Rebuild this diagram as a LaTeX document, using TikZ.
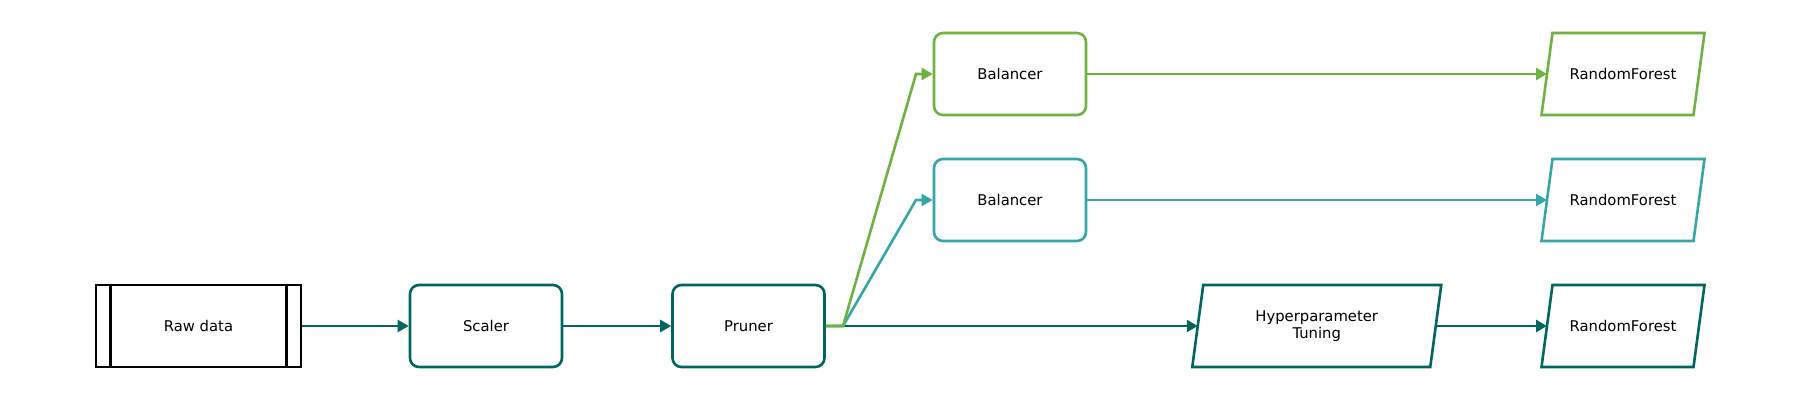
\documentclass[tikz,border=0pt]{standalone}
\usepackage{fontspec}
\setmainfont{DejaVu Sans}
\usetikzlibrary{arrows.meta}
\definecolor{deepteal}{HTML}{00665F}
\definecolor{leafgreen}{HTML}{6DB33F}
\definecolor{seateal}{HTML}{36A6A6}

\begin{document}
\begin{tikzpicture}[x=1pt,y=1pt,line width=2.6pt,
    txt/.style={font=\fontsize{14.8}{16.5}\selectfont, align=center},
    main/.style={draw, txt, rounded corners=9pt, minimum width=152pt, minimum height=82pt},
    data/.style={draw, txt, rectangle, minimum width=205pt, minimum height=82pt},
    model/.style={txt, rectangle, outer sep=0pt, minimum height=82pt},
    flow/.style={-{Triangle[length=11pt,width=12pt]}}]
    \useasboundingbox (0,0) rectangle (1800,400);

    \node[data] (raw) at (198.5,74) {Raw data};
    \draw ([xshift=16pt]raw.north west) -- ([xshift=16pt]raw.south west);
    \draw ([xshift=-16pt]raw.north east) -- ([xshift=-16pt]raw.south east);

    \node[main, deepteal, text=black] (scaler) at (486,74) {Scaler};
    \node[main, deepteal, text=black] (pruner) at (748.5,74) {Pruner};
    \coordinate (split) at (843,74);

    \node[main, leafgreen, text=black] (bal1) at (1010,326) {Balancer};
    \node[main, seateal, text=black] (bal2) at (1010,200) {Balancer};
    \coordinate (knee1) at (916,326);
    \coordinate (knee2) at (916,200);

    \node[model, minimum width=238pt] (tune) at (1316.75,74) {Hyperparameter\\Tuning};
    \node[model, minimum width=152pt] (rf1) at (1623,326) {RandomForest};
    \node[model, minimum width=152pt] (rf2) at (1623,200) {RandomForest};
    \node[model, minimum width=152pt] (rf3) at (1623,74) {RandomForest};

    % slanted boxes
    \foreach \n/\c in {tune/deepteal, rf1/leafgreen, rf2/seateal, rf3/deepteal}
        \draw[\c, line join=miter] ([xshift=5.5pt]\n.north west) -- ([xshift=5.5pt]\n.north east)
            -- ([xshift=-5.5pt]\n.south east) -- ([xshift=-5.5pt]\n.south west) -- cycle;

    % main line
    \draw[flow, deepteal] (raw) -- (scaler);
    \draw[flow, deepteal] (scaler) -- (pruner);
    \draw[flow, deepteal] (pruner) -- (split) -- (tune);
    \draw[flow, deepteal] (tune) -- (rf3);
    % branches
    \draw[flow, seateal] (pruner) -- (split) -- (knee2) -- (bal2);
    \draw[flow, seateal] (bal2) -- (rf2);
    \draw[flow, leafgreen] (pruner) -- (split) -- (knee1) -- (bal1);
    \draw[flow, leafgreen] (bal1) -- (rf1);
\end{tikzpicture}
\end{document}
